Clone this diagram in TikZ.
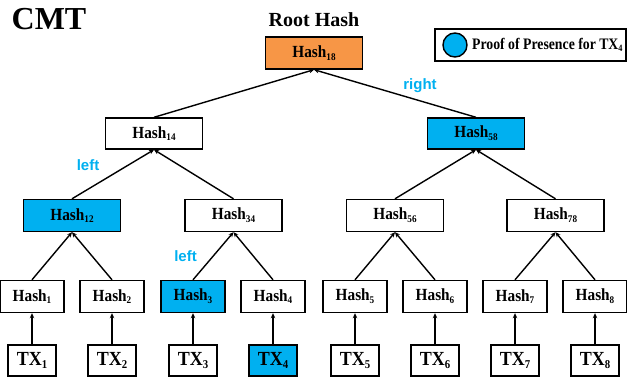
\documentclass[tikz,border=0pt]{standalone}
\usepackage{fontspec}
\setmainfont{Liberation Serif}
\newfontfamily\labfont{Liberation Sans}
\newfontfamily\nfont{Liberation Serif}[FakeStretch=0.9]
\newfontfamily\lfont{Liberation Serif}[FakeStretch=0.86]
\usetikzlibrary{arrows.meta}
\definecolor{pblue}{HTML}{00B0F0}
\definecolor{porange}{HTML}{F79646}
\newcommand\sbs[1]{\raisebox{-0.35ex}{\scalebox{0.6}{#1}}}
\begin{document}
\begin{tikzpicture}[x=1pt,y=-1pt,
 box/.style={draw=black, line width=1.4pt, inner sep=0pt, font=\nfont\bfseries\fontsize{17}{17}\selectfont},
 hbig/.style={box, minimum width=97pt, minimum height=32pt},
 hsmall/.style={box, minimum width=64pt, minimum height=32pt},
 txbox/.style={box, minimum width=48pt, minimum height=31pt, font=\nfont\bfseries\fontsize{20}{20}\selectfont},
 proof/.style={fill=pblue},
 conn/.style={line width=1.4pt, -{Stealth[length=5pt,width=4.5pt]}},
 side/.style={font=\labfont\bfseries\fontsize{15}{15}\selectfont, text=pblue}]
\useasboundingbox (0,0) rectangle (627,382);
% titles
\node[font=\bfseries\fontsize{32}{32}\selectfont] (cmt) at (49,19) {CMT};
\node[font=\bfseries\fontsize{20}{20}\selectfont] (roottitle) at (314,20) {Root Hash};
% legend
\node[draw, line width=1.4pt, minimum width=191pt, minimum height=32pt, inner sep=0pt] (legend) at (530.5,45) {};
\node[circle, draw, line width=1.4pt, fill=pblue, minimum size=24pt, inner sep=0pt] (legdot) at (455,45) {};
\node[anchor=west, inner sep=0pt, font=\lfont\bfseries\fontsize{16}{16}\selectfont] (legtext) at (472,45) {Proof of Presence for TX\sbs{4}};
% tree
\node[hbig, fill=porange] (root) at (314,53) {Hash\sbs{18}};
\node[hbig, minimum height=31pt] (h14) at (154,133.5) {Hash\sbs{14}};
\node[hbig, minimum height=31pt, proof] (h58) at (476,133.5) {Hash\sbs{58}};
\node[hbig, proof] (h12) at (72,215.5) {Hash\sbs{12}};
\node[hbig] (h34) at (233.5,215.5) {Hash\sbs{34}};
\node[hbig] (h56) at (395,215.5) {Hash\sbs{56}};
\node[hbig] (h78) at (555.5,215.5) {Hash\sbs{78}};
\node[hsmall] (h1) at (32,296.5) {Hash\sbs{1}};
\node[hsmall] (h2) at (112,296.5) {Hash\sbs{2}};
\node[hsmall, proof] (h3) at (193,296.5) {Hash\sbs{3}};
\node[hsmall] (h4) at (273,296.5) {Hash\sbs{4}};
\node[hsmall] (h5) at (355,296.5) {Hash\sbs{5}};
\node[hsmall] (h6) at (435,296.5) {Hash\sbs{6}};
\node[hsmall] (h7) at (515,296.5) {Hash\sbs{7}};
\node[hsmall] (h8) at (595,296.5) {Hash\sbs{8}};
\node[txbox] (t1) at (32,360.5) {TX\sbs{1}};
\node[txbox] (t2) at (112,360.5) {TX\sbs{2}};
\node[txbox] (t3) at (193,360.5) {TX\sbs{3}};
\node[txbox, proof] (t4) at (273,360.5) {TX\sbs{4}};
\node[txbox] (t5) at (355,360.5) {TX\sbs{5}};
\node[txbox] (t6) at (435,360.5) {TX\sbs{6}};
\node[txbox] (t7) at (515,360.5) {TX\sbs{7}};
\node[txbox] (t8) at (595,360.5) {TX\sbs{8}};
% connectors
\foreach \i in {1,...,8} {\draw[conn] (t\i.north) -- (h\i.south);}
\draw[conn] (h1.north) -- (h12.south);
\draw[conn] (h2.north) -- (h12.south);
\draw[conn] (h3.north) -- (h34.south);
\draw[conn] (h4.north) -- (h34.south);
\draw[conn] (h5.north) -- (h56.south);
\draw[conn] (h6.north) -- (h56.south);
\draw[conn] (h7.north) -- (h78.south);
\draw[conn] (h8.north) -- (h78.south);
\draw[conn] (h12.north) -- (h14.south);
\draw[conn] (h34.north) -- (h14.south);
\draw[conn] (h56.north) -- (h58.south);
\draw[conn] (h78.north) -- (h58.south);
\draw[conn] (h14.north) -- (root.south);
\draw[conn] (h58.north) -- (root.south);
% side labels
\node[side] (lab1) at (88,165) {left};
\node[side] (lab2) at (420,86) {right};
\node[side] (lab3) at (185.5,256) {left};
\end{tikzpicture}
\end{document}
